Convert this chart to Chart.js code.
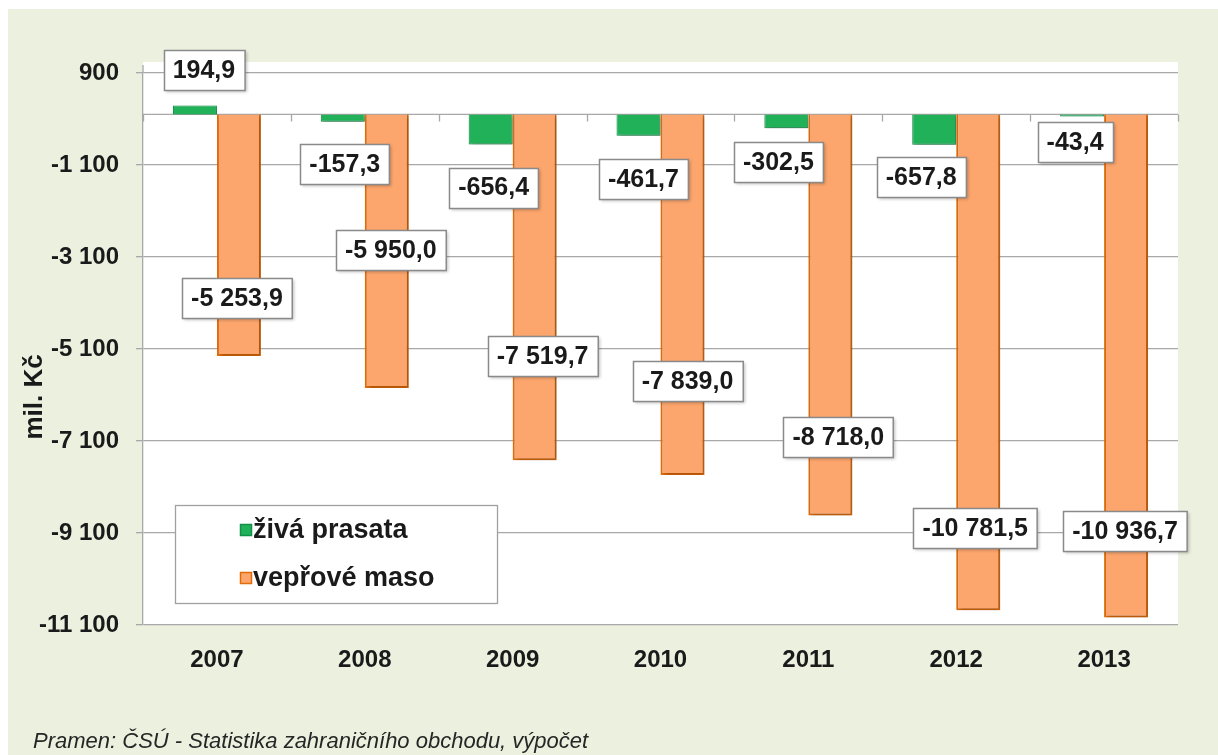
<!DOCTYPE html>
<html>
<head>
<meta charset="utf-8">
<script src="https://cdn.jsdelivr.net/npm/chart.js@4.4.0/dist/chart.umd.min.js"></script>
<style>
html,body{margin:0;padding:0;background:#ffffff;}
#wrap{width:1218px;height:755px;position:relative;}
canvas{display:block;}
</style>
</head>
<body>
<div id="wrap"><canvas id="c" width="1218" height="755"></canvas></div>
<script>
// ---- data ----
const years = ['2007', '2008', '2009', '2010', '2011', '2012', '2013'];
const zivaPrasata = [194.9, -157.3, -656.4, -461.7, -302.5, -657.8, -43.4];
const veproveMaso = [-5253.9, -5950.0, -7519.7, -7839.0, -8718.0, -10781.5, -10936.7];
const yTicks = [900, -1100, -3100, -5100, -7100, -9100, -11100];
const seriesNames = ['živá prasata', 'vepřové maso'];
const axisTitle = 'mil. Kč';
const sourceNote = 'Pramen: ČSÚ - Statistika zahraničního obchodu, výpočet';

// label box placement (offsets in px from the bar end), layout only
const greenLabelOffsets = [[9, -35], [2, 42], [3, 43], [5, 43], [-8, 34], [-13, 32], [-7, 26]];
const orangeLabelOffsets = [[-2, -58], [4, -138], [8, -104], [5, -94], [8, -78], [-3, -82], [-1, -86]];

const FONT = '"Liberation Sans", Arial, sans-serif';
const GREEN = '#20b159', GREEN_DARK = '#12904a';
const ORANGE = '#fca56c', ORANGE_DARK = '#e36c0a';
const GRID = '#a8a8a8';
const TEXT = '#1a1a1a';

function fmtThousands(v, decimals) {
  const neg = v < 0;
  const s = Math.abs(v).toFixed(decimals);
  const parts = s.split('.');
  const intPart = parts[0].replace(/\B(?=(\d{3})+(?!\d))/g, ' ');
  return (neg ? '-' : '') + intPart + (parts[1] ? ',' + parts[1] : '');
}

const decorPlugin = {
  id: 'decor',
  beforeDraw(chart) {
    const ctx = chart.ctx, a = chart.chartArea;
    ctx.save();
    ctx.fillStyle = '#ffffff';
    ctx.fillRect(0, 0, chart.width, chart.height);
    ctx.fillStyle = '#ecf0df';
    ctx.fillRect(8, 9, chart.width - 8, chart.height - 9);
    ctx.fillStyle = '#ffffff';
    ctx.fillRect(a.left, a.top - 11, a.right - a.left, a.bottom - a.top + 11);
    ctx.strokeStyle = GRID;
    ctx.lineWidth = 1.3;
    ctx.beginPath();
    ctx.moveTo(a.left, a.top - 8);
    ctx.lineTo(a.left, a.top);
    ctx.stroke();
    ctx.restore();
  },
  beforeDatasetsDraw(chart) {
    const ctx = chart.ctx, a = chart.chartArea;
    const y0 = chart.scales.y.getPixelForValue(0);
    ctx.save();
    ctx.strokeStyle = GRID;
    ctx.lineWidth = 1.3;
    ctx.beginPath();
    ctx.moveTo(a.left, y0);
    ctx.lineTo(a.right, y0);
    const w = (a.right - a.left) / years.length;
    for (let i = 0; i <= years.length; i++) {
      const x = Math.round(a.left + i * w) + 0.5;
      ctx.moveTo(x, y0);
      ctx.lineTo(x, y0 + 7);
    }
    ctx.stroke();
    ctx.restore();
  },
  beforeDatasetDraw(chart) {
    const ctx = chart.ctx;
    ctx.save();
    ctx.shadowColor = 'rgba(0,0,0,0.28)';
    ctx.shadowBlur = 4;
    ctx.shadowOffsetX = 2;
    ctx.shadowOffsetY = 2;
  },
  afterDatasetDraw(chart) {
    chart.ctx.restore();
  },
  afterDatasetsDraw(chart) {
    const ctx = chart.ctx;
    ctx.save();
    ctx.font = 'bold 25px ' + FONT;
    ctx.textAlign = 'center';
    ctx.textBaseline = 'middle';
    const drawBox = (text, cx, cy) => {
      const tw = ctx.measureText(text).width;
      const bw = tw + 18, bh = 40;
      const x = Math.round(cx - bw / 2) + 0.5, y = Math.round(cy - bh / 2) + 0.5;
      ctx.save();
      ctx.shadowColor = 'rgba(0,0,0,0.25)';
      ctx.shadowBlur = 3;
      ctx.shadowOffsetX = 1.5;
      ctx.shadowOffsetY = 1.5;
      ctx.fillStyle = '#ffffff';
      ctx.fillRect(x, y, bw, bh);
      ctx.restore();
      ctx.strokeStyle = '#8a8a8a';
      ctx.lineWidth = 1.5;
      ctx.strokeRect(x, y, bw, bh);
      ctx.fillStyle = TEXT;
      ctx.fillText(text, cx, cy + 1);
    };
    const offs = [greenLabelOffsets, orangeLabelOffsets];
    chart.data.datasets.forEach((ds, di) => {
      const meta = chart.getDatasetMeta(di);
      meta.data.forEach((bar, i) => {
        const o = offs[di][i];
        drawBox(fmtThousands(ds.data[i], 1), bar.x + o[0], bar.y + o[1]);
      });
    });

    // legend
    const lx = 175, ly = 505, lw = 322, lh = 98;
    ctx.fillStyle = '#ffffff';
    ctx.fillRect(lx + 0.5, ly + 0.5, lw, lh);
    ctx.strokeStyle = '#a0a0a0';
    ctx.lineWidth = 1.3;
    ctx.strokeRect(lx + 0.5, ly + 0.5, lw, lh);
    const items = [
      { fill: GREEN, stroke: GREEN_DARK, y: 530 },
      { fill: ORANGE, stroke: ORANGE_DARK, y: 578 }
    ];
    ctx.font = 'bold 27px ' + FONT;
    ctx.textAlign = 'left';
    ctx.textBaseline = 'middle';
    items.forEach((it, k) => {
      ctx.fillStyle = it.fill;
      ctx.fillRect(240, it.y - 6, 12, 12);
      ctx.strokeStyle = it.stroke;
      ctx.lineWidth = 1.5;
      ctx.strokeRect(240.5, it.y - 5.5, 11, 11);
      ctx.fillStyle = TEXT;
      ctx.fillText(chart.data.datasets[k].label, 253, it.y + 1);
    });

    // axis title
    ctx.save();
    ctx.translate(35, 397);
    ctx.rotate(-Math.PI / 2);
    ctx.font = 'bold 26px ' + FONT;
    ctx.textAlign = 'center';
    ctx.textBaseline = 'middle';
    ctx.fillStyle = TEXT;
    ctx.fillText(axisTitle, 0, 0);
    ctx.restore();

    // source note
    ctx.font = 'italic 22px ' + FONT;
    ctx.textAlign = 'left';
    ctx.textBaseline = 'alphabetic';
    ctx.fillStyle = '#262626';
    ctx.fillText(sourceNote, 33, 748);
    ctx.restore();
  }
};

new Chart(document.getElementById('c'), {
  type: 'bar',
  data: {
    labels: years,
    datasets: [
      { label: seriesNames[0], data: zivaPrasata, backgroundColor: GREEN, borderColor: GREEN_DARK, borderWidth: 1 },
      { label: seriesNames[1], data: veproveMaso, backgroundColor: ORANGE, borderColor: ORANGE_DARK, borderWidth: 2 }
    ]
  },
  options: {
    responsive: false,
    animation: false,
    devicePixelRatio: 1,
    layout: { padding: { left: 8, top: 73, right: 40, bottom: 0 } },
    datasets: { bar: { barPercentage: 1.0, categoryPercentage: 0.595 } },
    plugins: { legend: { display: false }, tooltip: { enabled: false } },
    scales: {
      x: {
        grid: { display: false, drawTicks: false },
        border: { display: false },
        ticks: { font: { family: FONT, size: 24, weight: 'bold' }, color: TEXT, padding: 21 },
        afterFit(scale) { scale.height = 130; }
      },
      y: {
        min: yTicks[yTicks.length - 1],
        max: yTicks[0],
        afterBuildTicks(scale) { scale.ticks = yTicks.map(v => ({ value: v })); },
        grid: { color: GRID, lineWidth: 1.3, tickLength: 7 },
        border: { color: GRID, width: 1.3 },
        ticks: {
          font: { family: FONT, size: 24, weight: 'bold' },
          color: TEXT,
          padding: 17,
          callback: (v) => fmtThousands(v, 0)
        },
        afterFit(scale) { scale.width = 135; }
      }
    }
  },
  plugins: [decorPlugin]
});
</script>
</body>
</html>
